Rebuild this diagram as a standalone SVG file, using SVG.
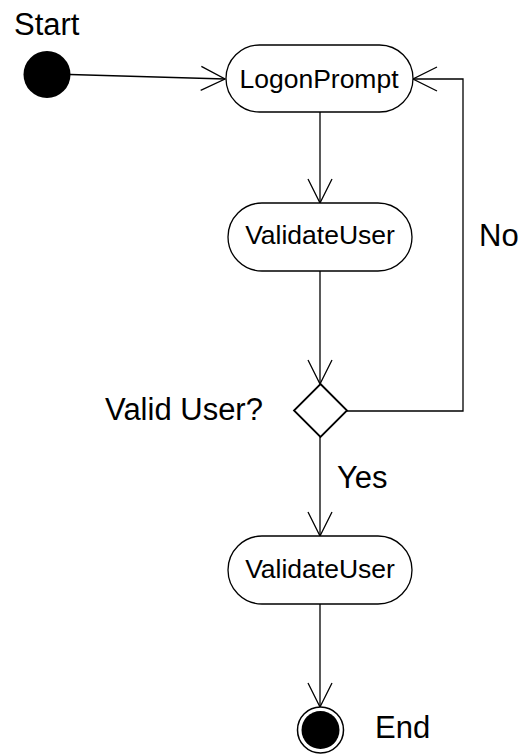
<svg xmlns="http://www.w3.org/2000/svg" width="526" height="756" viewBox="0 0 526 756">
<defs>
<style>
.lbl{font-family:"Liberation Sans",Arial,sans-serif;font-size:31px;fill:#000}
.nlbl{font-family:"Liberation Sans",Arial,sans-serif;font-size:26.5px;fill:#000;text-anchor:middle}
.act{fill:#fff;stroke:#000;stroke-width:1.3}
.edge{fill:none;stroke:#000;stroke-width:1.3}
</style>
<marker id="arr" viewBox="0 0 26 26" refX="25" refY="13" markerWidth="26" markerHeight="26" markerUnits="userSpaceOnUse" orient="auto">
<path d="M1,1 L25,13 L1,25" fill="none" stroke="#000" stroke-width="1.3"/>
</marker>
</defs>
<rect width="526" height="756" fill="#fff"/>
<g id="connectors">
<path class="edge" d="M70,74.5 L225,79" marker-end="url(#arr)"/>
<path class="edge" d="M320,112 L320,203" marker-end="url(#arr)"/>
<path class="edge" d="M320,271 L320,384" marker-end="url(#arr)"/>
<path class="edge" d="M347,411 L463,411 L463,79 L413,79" marker-end="url(#arr)"/>
<path class="edge" d="M320,437 L320,536" marker-end="url(#arr)"/>
<path class="edge" d="M320,604 L320,707" marker-end="url(#arr)"/>
</g>
<g id="start">
<circle cx="47" cy="74.5" r="23.5" fill="#000"/>
<text class="lbl" x="14" y="35">Start</text>
</g>
<g id="logonprompt">
<rect class="act" x="226" y="45" width="187" height="67" rx="33.5" ry="33.5"/>
<text class="nlbl" x="319" y="88">LogonPrompt</text>
</g>
<g id="validateuser1">
<rect class="act" x="228" y="203" width="184" height="68" rx="34" ry="34"/>
<text class="nlbl" x="320" y="244">ValidateUser</text>
</g>
<g id="decision">
<polygon points="320.5,384 347,410.5 320.5,437 294,410.5" fill="#fff" stroke="#000" stroke-width="1.8"/>
<text class="lbl" x="105" y="420">Valid User?</text>
</g>
<g id="labels">
<text class="lbl" x="479" y="246">No</text>
<text class="lbl" x="337" y="488">Yes</text>
</g>
<g id="validateuser2">
<rect class="act" x="228" y="536" width="184" height="68" rx="34" ry="34"/>
<text class="nlbl" x="320" y="578">ValidateUser</text>
</g>
<g id="end">
<circle cx="320.5" cy="730" r="23" fill="#fff" stroke="#000" stroke-width="1.5"/>
<circle cx="320.5" cy="730" r="19" fill="#000"/>
<text class="lbl" x="375" y="738">End</text>
</g>
</svg>
